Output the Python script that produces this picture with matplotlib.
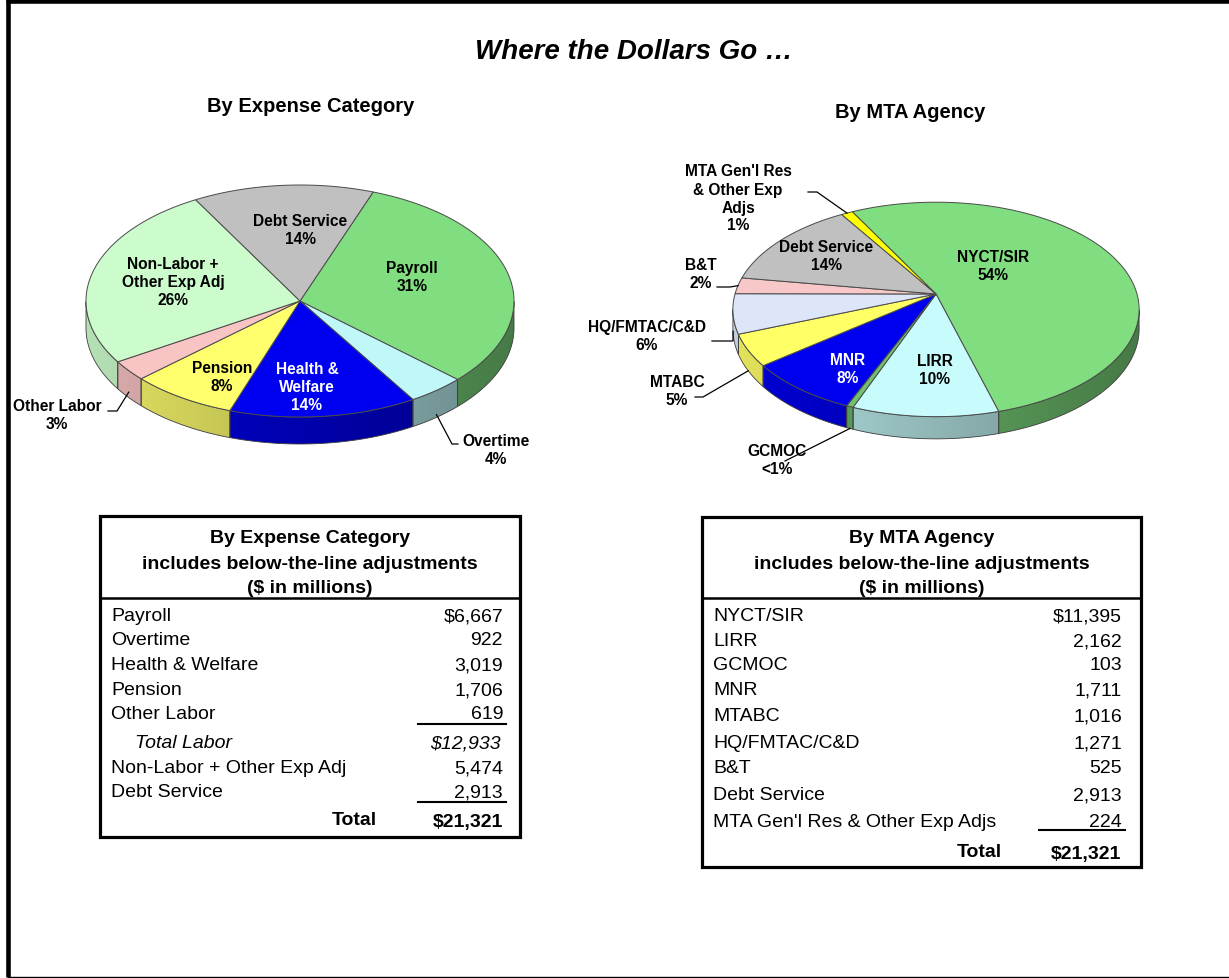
import numpy as np
import matplotlib
matplotlib.use('Agg')
import matplotlib.pyplot as plt
from matplotlib.patches import Polygon, Rectangle
from matplotlib.colors import to_rgb

plt.rcParams['font.family'] = ['Liberation Sans', 'DejaVu Sans']

# ---- data ----
exp_labels = ['Payroll', 'Overtime', 'Health & Welfare', 'Pension', 'Other Labor',
              'Non-Labor + Other Exp Adj', 'Debt Service']
exp_values = [6667, 922, 3019, 1706, 619, 5474, 2913]
exp_pie_names = ['Payroll', 'Overtime', 'Health &\nWelfare', 'Pension', 'Other Labor',
                 'Non-Labor +\nOther Exp Adj', 'Debt Service']
exp_pcts = ['31%', '4%', '14%', '8%', '3%', '26%', '14%']
exp_total_labor = 12933
exp_total = 21321

agency_labels = ['NYCT/SIR', 'LIRR', 'GCMOC', 'MNR', 'MTABC', 'HQ/FMTAC/C&D', 'B&T',
                 'Debt Service', "MTA Gen'l Res & Other Exp Adjs"]
agency_values = [11395, 2162, 103, 1711, 1016, 1271, 525, 2913, 224]
agency_pie_names = ['NYCT/SIR', 'LIRR', 'GCMOC', 'MNR', 'MTABC', 'HQ/FMTAC/C&D', 'B&T',
                    'Debt Service', "MTA Gen'l Res\n& Other Exp\nAdjs"]
agency_pcts = ['54%', '10%', '<1%', '8%', '5%', '6%', '2%', '14%', '1%']
agency_total = 21321

# ---- styles / layout ----
exp_colors = ['#80de80', '#c0f8fa', '#0000f0', '#ffff6e', '#f8c4c4', '#ccfccc', '#c0c0c0']
agency_colors = ['#80de80', '#c8fcfc', '#70c070', '#0000f0', '#ffff66', '#dce6f8',
                 '#f8c8c8', '#c0c0c0', '#ffff00']
exp_text_colors = ['black', 'black', 'white', 'black', 'black', 'black', 'black']
agency_text_colors = ['black', 'black', 'black', 'white', 'black', 'black', 'black',
                      'black', 'black']

left_pie = dict(cx=300, cy=302, A=214, B=116, k=0.0, depth=27, start=70)
right_pie = dict(cx=936, cy=295, A=201, B=105, k=0.144, depth=19, start=118)

exp_label_pos = [(412, 278), (496, 451), (307, 388), (222, 378), (57, 416),
                 (173, 283), (300, 230)]
agency_label_pos = [(993, 267), (935, 371), (777, 461), (848, 370), (677, 392),
                    (647, 337), (701, 275), (826, 256), (738, 199)]

# leader lines: slice index, knee points, fraction of side depth (None = top rim)
exp_leaders = [(4, [(108, 412), (117, 412)], 0.8), (1, [(458, 445), (452, 445)], 0.9)]
agency_leaders = [(8, [(808, 193), (817, 193)], None),
                  (6, [(717, 288), (730, 288)], None),
                  (5, [(712, 342), (733, 342)], 0.9),
                  (4, [(695, 398), (703, 398)], 1.0),
                  (2, [(785, 462)], 1.0)]

fig = plt.figure(figsize=(12.29, 9.79), dpi=100)
ax = fig.add_axes([0, 0, 1, 1])
ax.set_xlim(0, 1229)
ax.set_ylim(979, 0)
ax.axis('off')


def rim_xy(p, th, drop=0.0):
    u, v = np.cos(th), np.sin(th)
    w = 1 + p['k'] * v
    return p['cx'] + p['A'] * u / w, p['cy'] - p['B'] * v / w + drop / w


def draw_pie(p, values, colors):
    spans = np.array(values, dtype=float) / sum(values) * 2 * np.pi
    ends = np.radians(p['start']) - np.cumsum(spans)
    starts = ends + spans
    d = p['depth']
    # side walls, shaded darker towards the right
    for s, e, c in zip(starts, ends, colors):
        th = np.linspace(s, e, max(int(abs(s - e) * 120), 4))
        vis = np.sin(th) < -p['k']
        idx = np.where(vis)[0]
        if len(idx) == 0:
            continue
        runs = np.split(idx, np.where(np.diff(idx) > 1)[0] + 1)
        base = np.array(to_rgb(c))
        for r in runs:
            if len(r) < 2:
                continue
            t = th[r]
            xt, yt = rim_xy(p, t)
            xb, yb = rim_xy(p, t, d)
            outline = list(zip(xt, yt)) + list(zip(xb[::-1], yb[::-1]))
            x0, x1 = min(xt.min(), xb.min()), max(xt.max(), xb.max())
            y0, y1 = min(yt.min(), yb.min()), max(yt.max(), yb.max())
            xs = np.linspace(x0, x1, 64)
            cosv = np.clip((xs - p['cx']) / p['A'], -1, 1)
            sh = 0.72 - 0.17 * cosv
            img = np.clip(base[None, None, :] * sh[None, :, None], 0, 1)
            clip = Polygon(outline, closed=True, transform=ax.transData)
            im = ax.imshow(img, extent=(x0, x1, y1, y0), aspect='auto',
                           interpolation='bilinear', zorder=1)
            im.set_clip_path(clip)
            ax.add_patch(Polygon(outline, closed=True, fill=False, ec='#3c3c3c',
                                 lw=0.6, zorder=2))
    # top faces
    for s, e, c in zip(starts, ends, colors):
        th = np.linspace(s, e, max(int(abs(s - e) * 120), 4))
        xt, yt = rim_xy(p, th)
        pts = [(p['cx'], p['cy'])] + list(zip(xt, yt))
        ax.add_patch(Polygon(pts, closed=True, fc=c, ec='#4a4a4a', lw=0.7, zorder=3))
    return starts, ends


def pie_labels(names, pcts, pos, tcolors):
    for n, pc, (x, y), tc in zip(names, pcts, pos, tcolors):
        ax.text(x, y, n + '\n' + pc, ha='center', va='center', fontsize=11.2,
                fontweight='bold', color=tc, linespacing=1.25, zorder=5)


def leaders(p, starts, ends, spec):
    for i, knees, frac in spec:
        mid = (starts[i] + ends[i]) / 2
        ex, ey = rim_xy(p, mid, 0 if frac is None else p['depth'] * frac)
        xs = [k[0] for k in knees] + [ex]
        ys = [k[1] for k in knees] + [ey]
        ax.plot(xs, ys, color='black', lw=0.9, solid_joinstyle='miter', zorder=4)


s1, e1 = draw_pie(left_pie, exp_values, exp_colors)
pie_labels(exp_pie_names, exp_pcts, exp_label_pos, exp_text_colors)
leaders(left_pie, s1, e1, exp_leaders)

s2, e2 = draw_pie(right_pie, agency_values, agency_colors)
pie_labels(agency_pie_names, agency_pcts, agency_label_pos, agency_text_colors)
leaders(right_pie, s2, e2, agency_leaders)

ax.set_xlim(0, 1229)
ax.set_ylim(979, 0)

# ---- titles ----
ax.text(634, 52, 'Where the Dollars Go \u2026', ha='center', va='center', fontsize=20,
        fontweight='bold', style='italic')
ax.text(311, 107, 'By Expense Category', ha='center', va='center', fontsize=14.5,
        fontweight='bold')
ax.text(910, 112, 'By MTA Agency', ha='center', va='center', fontsize=14.5,
        fontweight='bold')

# ---- frame ----
ax.plot([6, 1229], [2, 2], color='black', lw=3.3, solid_capstyle='butt')
ax.plot([8, 8], [0, 978], color='black', lw=3.3, solid_capstyle='butt')
ax.plot([8, 1229], [977.5, 977.5], color='black', lw=1.0)


def fmt(v, dollar=False):
    return ('$' if dollar else '') + f'{v:,}'


FS = 14
DY = 2  # small nudge so visual centres line up


def table(x0, y0, w, h, title, label_x, val_x, rows):
    ax.add_patch(Rectangle((x0, y0), w, h, fill=False, ec='black', lw=2.3))
    ax.plot([x0, x0 + w], [599, 599], color='black', lw=1.8)
    cx = x0 + w / 2
    for txt, y in zip([title, 'includes below-the-line adjustments', '($ in millions)'],
                      [537, 563, 587]):
        ax.text(cx, y + DY, txt, ha='center', va='center', fontsize=FS, fontweight='bold')
    for lab, val, y, kind in rows:
        if kind == 'italic':
            ax.text(label_x + 24, y + DY, lab, ha='left', va='center', fontsize=FS,
                    style='italic')
            ax.text(val_x - 2, y + DY, val, ha='right', va='center', fontsize=FS,
                    style='italic')
        else:
            ax.text(label_x, y + DY, lab, ha='left', va='center', fontsize=FS)
            ax.text(val_x, y + DY, val, ha='right', va='center', fontsize=FS)


# left table
ly = [615, 639, 664, 689, 713, 767, 791]
lrows = []
for i, (lab, v) in enumerate(zip(exp_labels, exp_values)):
    lrows.append((lab, fmt(v, i == 0), ly[i], 'plain'))
lrows.append(('Total Labor', fmt(exp_total_labor, True), 742, 'italic'))
table(100, 517, 420, 321, 'By Expense Category', 111, 503, lrows)
ax.text(377, 819 + DY, 'Total', ha='right', va='center', fontsize=FS, fontweight='bold')
ax.text(503, 821 + DY, fmt(exp_total, True), ha='right', va='center', fontsize=FS,
        fontweight='bold')
ax.plot([418, 506], [725, 725], color='black', lw=1.5)
ax.plot([418, 506], [803, 803], color='black', lw=1.5)

# right table
ry = [615, 640, 664, 689, 715, 742, 767, 794, 821]
rrows = []
for i, (lab, v) in enumerate(zip(agency_labels, agency_values)):
    rrows.append((lab, fmt(v, i == 0), ry[i], 'plain'))
table(702, 518, 439, 350, 'By MTA Agency', 713, 1122, rrows)
ax.text(1002, 851 + DY, 'Total', ha='right', va='center', fontsize=FS, fontweight='bold')
ax.text(1121, 853 + DY, fmt(agency_total, True), ha='right', va='center', fontsize=FS,
        fontweight='bold')
ax.plot([1039, 1125], [831, 831], color='black', lw=1.5)

fig.savefig('out.png', dpi=100, facecolor='white')
